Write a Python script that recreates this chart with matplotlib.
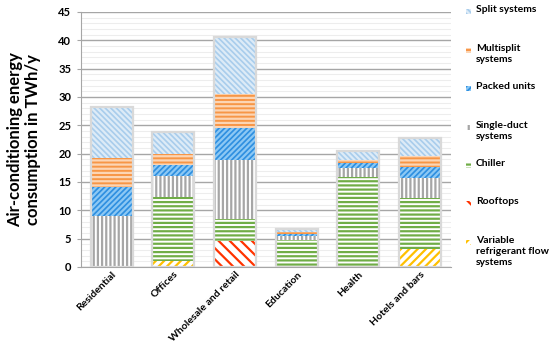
import matplotlib
matplotlib.use("Agg")
import matplotlib.pyplot as plt
from matplotlib.patches import Rectangle
import numpy as np

categories = ["Residential", "Offices", "Wholesale and retail", "Education", "Health", "Hotels and bars"]
vrf = [0.0, 1.0, 0.0, 0.0, 0.0, 3.1]
rooftops = [0.0, 0.0, 4.6, 0.0, 0.0, 0.0]
chiller = [0.0, 11.3, 3.8, 4.7, 15.9, 9.1]
single_duct = [9.0, 3.8, 10.4, 0.7, 1.6, 3.5]
packed = [5.1, 1.9, 5.8, 0.4, 0.8, 2.0]
multisplit = [5.2, 2.0, 5.9, 0.3, 0.55, 1.9]
split = [8.9, 3.8, 10.1, 0.6, 1.65, 3.2]

series_names = ["Variable\nrefrigerant flow\nsystems", "Rooftops", "Chiller", "Single-duct\nsystems",
                "Packed units", "Multisplit\nsystems", "Split systems"]
series = [vrf, rooftops, chiller, single_duct, packed, multisplit, split]
# (facecolor, hatchcolor, hatch)
styles = [
    ("white", "#FFC000", "////"),
    ("white", "#FF3300", "\\\\\\"),
    ("white", "#70AD47", "----"),
    ("white", "#A6A6A6", "||||"),
    ("#2E8FE0", "#8CC8F4", "//////"),
    ("#F79646", "#FCD5B4", "----"),
    ("#A9CDEC", "#DDEBF7", "\\\\\\\\\\\\"),
]

plt.rcParams['font.family'] = ['Lato', 'DejaVu Sans']
plt.rcParams['hatch.linewidth'] = 1.6

fig = plt.figure(figsize=(5.5, 3.49), dpi=100)
ax = fig.add_axes([0.147, 0.235, 0.673, 0.731])

x = np.arange(len(categories))
w = 0.68
bottom = np.zeros(len(categories))
for vals, (fc, hc, h) in zip(series, styles):
    vals = np.array(vals)
    ax.bar(x, vals, w, bottom=bottom, color=fc, edgecolor=hc, hatch=h, linewidth=0, zorder=3)
    bottom += vals
# soft outline of bars
ax.bar(x, bottom, w, fill=False, edgecolor="#D9D9D9", linewidth=1.6, zorder=4)

ax.set_ylim(0, 45)
ax.set_xlim(-0.5, len(categories) - 0.5)
ax.set_yticks(np.arange(0, 46, 5))
ax.set_yticks(np.arange(0, 46, 1), minor=True)
ax.yaxis.grid(True, which='major', color="#A6A6A6", linewidth=1.0, zorder=0)
ax.yaxis.grid(True, which='minor', color="#EDEDED", linewidth=0.8, zorder=0)
ax.tick_params(axis='y', which='minor', length=0)
ax.tick_params(axis='y', which='major', length=3, color="#A6A6A6", labelsize=8, pad=4)
ax.tick_params(axis='x', length=0, labelsize=7.5, pad=2)
for lab in ax.get_yticklabels():
    lab.set_fontweight('bold')
ax.set_xticks(x)
ax.set_xticklabels(categories, rotation=45, ha='right', rotation_mode='anchor', fontweight='bold')
for s in ['top', 'right']:
    ax.spines[s].set_visible(False)
for s in ['left', 'bottom']:
    ax.spines[s].set_color("#A6A6A6")
ax.set_ylabel("Air-conditioning energy\nconsumption in TWh/y", fontsize=12, fontweight='bold',
              labelpad=12, linespacing=1.15)
ax.set_axisbelow(True)

# custom legend on the right
W, H = 550.0, 349.0
legend_y = [11, 50, 88, 127, 165, 203, 242]
order = [6, 5, 4, 3, 2, 1, 0]
for yy, idx in zip(legend_y, order):
    fc, hc, h = styles[idx]
    r = Rectangle((466 / W, 1 - (yy + 3) / H), 5 / W, 5 / H, transform=fig.transFigure,
                  facecolor=fc, edgecolor=hc, hatch=h, linewidth=0)
    fig.add_artist(r)
    fig.text(476 / W, 1 - (yy - 6) / H, series_names[idx], fontsize=7.5, fontweight='bold',
             va='top', ha='left', linespacing=1.3)

fig.savefig("out.png", dpi=100)
